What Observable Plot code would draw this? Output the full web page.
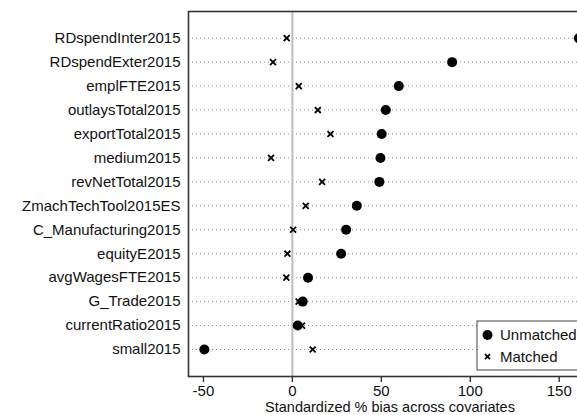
<!DOCTYPE html>
<html>
<head>
<meta charset="utf-8">
<script src="https://cdn.jsdelivr.net/npm/d3@7"></script>
<script src="https://cdn.jsdelivr.net/npm/@observablehq/plot@0.6"></script>
<style>
  html, body { margin: 0; padding: 0; background: #fff; overflow: hidden; }
  #wrap { width: 577px; height: 415px; overflow: hidden; position: relative; }
  #wrap svg { display: block; }
</style>
</head>
<body>
<div id="wrap"></div>
<script>
const variables = [
  "RDspendInter2015", "RDspendExter2015", "emplFTE2015", "outlaysTotal2015",
  "exportTotal2015", "medium2015", "revNetTotal2015", "ZmachTechTool2015ES",
  "C_Manufacturing2015", "equityE2015", "avgWagesFTE2015", "G_Trade2015",
  "currentRatio2015", "small2015"
];
const unmatched = [161, 89.8, 59.8, 52.5, 50.2, 49.5, 48.9, 36.2, 30.2, 27.4, 8.8, 5.8, 3.0, -49.5];
const matched = [-3.2, -10.9, 3.6, 14.3, 21.4, -12.0, 16.7, 7.5, 0.4, -2.8, -3.4, 3.5, 5.4, 11.4];
const xTicks = [-50, 0, 50, 100, 150];
const xLabel = "Standardized % bias across covariates";
const legendLabels = ["Unmatched", "Matched"];

const unmatchedData = variables.map((v, i) => ({variable: v, bias: unmatched[i]}));
const matchedData = variables.map((v, i) => ({variable: v, bias: matched[i]}));

const font = "'Liberation Sans', Arial, sans-serif";

const chart = Plot.plot({
  width: 620,
  height: 415,
  marginLeft: 188,
  marginRight: 20,
  marginTop: 11,
  marginBottom: 39,
  style: {fontFamily: font, fontSize: "15px", color: "#111", background: "#fff", maxWidth: "none", overflow: "visible"},
  x: {domain: [-58.4, 173.2]},
  y: {domain: variables, type: "point", padding: 0, round: false, range: [37.7, 349]},
  marks: [
    Plot.ruleY(variables, {stroke: "#888", strokeWidth: 1, strokeDasharray: "1,3"}),
    Plot.ruleX([0], {stroke: "#bdbdbd", strokeWidth: 2}),
    Plot.dot(unmatchedData, {x: "bias", y: "variable", r: 5, fill: "#000", stroke: "none"}),
    Plot.dot(matchedData, {x: "bias", y: "variable", symbol: "times", r: 2.8, stroke: "#000", strokeWidth: 1.8}),
    Plot.frame({stroke: "#333", strokeWidth: 1.6}),
    Plot.axisY({tickSize: 0, tickPadding: 8, fontSize: 15, label: null}),
    Plot.axisX({ticks: xTicks, tickFormat: d => String(d), tickSize: 6, tickPadding: 2.8, fontSize: 15, label: null, strokeWidth: 1.4, stroke: "#333"})
  ]
});

const svg = d3.select(chart);

// x-axis title
svg.append("text")
  .attr("x", 390).attr("y", 411.9)
  .attr("text-anchor", "middle")
  .attr("font-family", font).attr("font-size", 14.5).attr("fill", "#111")
  .text(xLabel);

// legend
const lg = svg.append("g").attr("text-anchor", "start");
lg.append("rect").attr("x", 477).attr("y", 321).attr("width", 160).attr("height", 49)
  .attr("fill", "#fff").attr("stroke", "#555").attr("stroke-width", 1.1);
lg.append("circle").attr("cx", 487.5).attr("cy", 335).attr("r", 5).attr("fill", "#000");
lg.append("path").attr("d", d3.symbol(d3.symbolTimes, 18)())
  .attr("transform", "translate(487.5,356.7)").attr("stroke", "#000").attr("stroke-width", 1.7).attr("fill", "none");
lg.selectAll("text.l").data(legendLabels).join("text")
  .attr("class", "l")
  .attr("x", 500).attr("y", (d, i) => i === 0 ? 335 : 356.7)
  .attr("dy", "0.35em")
  .attr("text-anchor", "start")
  .attr("font-family", font).attr("font-size", 15).attr("fill", "#111")
  .text(d => d);

document.getElementById("wrap").appendChild(chart);
</script>
</body>
</html>
